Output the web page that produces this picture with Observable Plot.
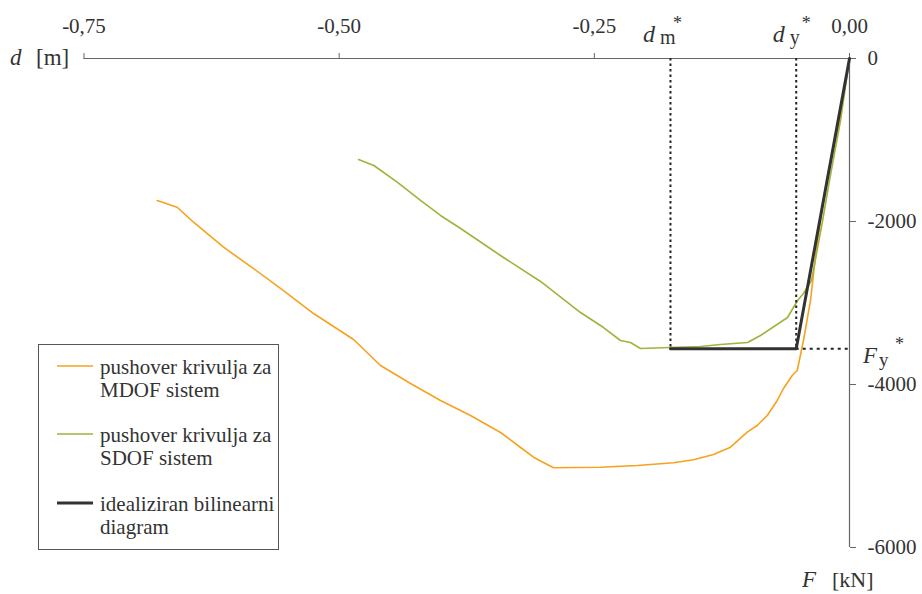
<!DOCTYPE html>
<html>
<head>
<meta charset="utf-8">
<script src="https://cdn.jsdelivr.net/npm/d3@7"></script>
<script src="https://cdn.jsdelivr.net/npm/@observablehq/plot@0.6"></script>
<style>
  html, body { margin: 0; padding: 0; background: #fff; }
  #chart { position: relative; width: 922px; height: 594px; }
  #chart svg text { font-family: "Liberation Serif", "Times New Roman", serif; }
</style>
</head>
<body>
<div id="chart"></div>
<script>
// ---- data (d in m, F in kN) ----
const mdofD = [0, -0.0098, -0.0225, -0.0323, -0.0382, -0.0451, -0.0512, -0.0561, -0.0647, -0.0708, -0.0806, -0.0904, -0.1002, -0.1166, -0.1332, -0.1528, -0.1724, -0.2080, -0.2439, -0.2900, -0.3096, -0.3223, -0.3419, -0.3713, -0.4007, -0.4301, -0.4595, -0.4859, -0.5251, -0.5545, -0.5839, -0.6133, -0.6427, -0.6587, -0.6783];
const mdofF = [0, -761, -1497, -2319, -2969, -3460, -3828, -3890, -4049, -4196, -4380, -4503, -4585, -4769, -4859, -4924, -4961, -4994, -5015, -5022, -4892, -4773, -4589, -4380, -4196, -3988, -3767, -3448, -3129, -2847, -2577, -2315, -2009, -1825, -1742];

const sdofD = [0, -0.0088, -0.0196, -0.0265, -0.0372, -0.0451, -0.0509, -0.0607, -0.0872, -0.0999, -0.1264, -0.1460, -0.1754, -0.2048, -0.2146, -0.2244, -0.2410, -0.2635, -0.3027, -0.3420, -0.3810, -0.4007, -0.4203, -0.4428, -0.4660, -0.4810];
const sdofF = [0, -761, -1497, -2000, -2724, -2883, -2969, -3178, -3399, -3485, -3509, -3534, -3546, -3558, -3485, -3460, -3301, -3117, -2736, -2417, -2086, -1926, -1742, -1521, -1313, -1239];

const bilinD = [0, -0.0522, -0.1754];
const bilinF = [0, -3562, -3562];

const dmStar = -0.1754;
const dyStar = -0.0522;
const FyStar = -3562;

const xTicks = [-0.75, -0.50, -0.25, 0];
const yTicks = [0, -2000, -4000, -6000];

const seriesNames = ["pushover krivulja za|MDOF sistem", "pushover krivulja za|SDOF sistem", "idealiziran bilinearni|diagram"];

// ---- build tables ----
const mdof = mdofD.map((d, i) => ({d, F: mdofF[i]}));
const sdof = sdofD.map((d, i) => ({d, F: sdofF[i]}));
const bilin = bilinD.map((d, i) => ({d, F: bilinF[i]}));

const ORANGE = "#f7a21f";
const GREEN = "#a3b23a";
const DARK = "#333333";
const AXIS = "#666666";
const FONT = "Liberation Serif";

const plot = Plot.plot({
  width: 922,
  height: 594,
  marginLeft: 83.5,
  marginRight: 73,
  marginTop: 58,
  marginBottom: 47,
  x: {domain: [-0.75, 0]},
  y: {domain: [-6000, 0]},
  style: {fontFamily: FONT, fontSize: "21px", color: "#333", background: "#fff", overflow: "visible"},
  marks: [
    Plot.ruleY([0], {stroke: AXIS, strokeWidth: 1.2}),
    Plot.ruleX([0], {stroke: AXIS, strokeWidth: 1.2}),
    Plot.axisX({anchor: "top", ticks: xTicks, tickFormat: d => d.toFixed(2).replace(".", ","), tickSize: 6, tickPadding: 20, label: null, stroke: AXIS, fontSize: 21, fontFamily: FONT}),
    Plot.axisY({anchor: "right", ticks: yTicks, tickFormat: d => String(d), tickSize: 6, tickPadding: 12, label: null, stroke: AXIS, fontSize: 21, fontFamily: FONT}),
    Plot.line(mdof, {x: "d", y: "F", stroke: ORANGE, strokeWidth: 1.6}),
    Plot.line(sdof, {x: "d", y: "F", stroke: GREEN, strokeWidth: 1.6}),
    Plot.ruleX([dmStar, dyStar], {y1: 0, y2: FyStar, stroke: "#222", strokeWidth: 2, strokeDasharray: "2.5,3"}),
    Plot.ruleY([FyStar], {x1: dyStar, x2: 0, stroke: "#222", strokeWidth: 2, strokeDasharray: "3,4"}),
    Plot.line(bilin, {x: "d", y: "F", stroke: DARK, strokeWidth: 3})
  ]
});

document.getElementById("chart").appendChild(plot);

const sx = plot.scale("x"), sy = plot.scale("y");
const svg = d3.select(plot);
const g = svg.append("g").attr("font-family", FONT).attr("fill", "#333").attr("text-anchor", "start");

function txt(x, y, s, size, italic) {
  g.append("text").attr("x", x).attr("y", y).attr("font-size", size)
    .attr("text-anchor", "start")
    .attr("font-style", italic ? "italic" : "normal").text(s);
}

// axis labels
const y0 = sy.apply(0);
txt(10, y0 + 7, "d", 23, true);
txt(36, y0 + 7, "[m]", 23, false);
const xEnd = sx.apply(0);
txt(xEnd - 47, 587, "F", 23, true);
txt(xEnd - 17, 587, "[kN]", 22, false);

// star labels
function starLabel(xc, yb, main, sub, subDx, starDx) {
  txt(xc, yb, main, 24, true);
  txt(xc + subDx, yb + 2, sub, 20, false);
  txt(xc + starDx, yb - 13, "*", 18, false);
}
starLabel(sx.apply(dmStar) - 27, y0 - 16.5, "d", "m", 17, 30);
starLabel(sx.apply(dyStar) - 23, y0 - 16.5, "d", "y", 17, 29);
const fy = sy.apply(FyStar);
txt(xEnd + 14, fy + 15, "F", 23, true);
txt(xEnd + 30, fy + 18, "y", 19, false);
txt(xEnd + 46, fy + 2, "*", 18, false);

// legend
const lg = g.append("g");
lg.append("rect").attr("x", 38.5).attr("y", 344.5).attr("width", 240).attr("height", 205)
  .attr("fill", "#fff").attr("stroke", "#555").attr("stroke-width", 1);
const legendRows = [
  {name: seriesNames[0], color: ORANGE, w: 1.6},
  {name: seriesNames[1], color: GREEN, w: 1.6},
  {name: seriesNames[2], color: DARK, w: 3}
];
const rowY = [366, 434, 503];
legendRows.forEach((r, i) => {
  lg.append("line").attr("x1", 57).attr("x2", 93).attr("y1", rowY[i]).attr("y2", rowY[i])
    .attr("stroke", r.color).attr("stroke-width", r.w);
  r.name.split("|").forEach((line, j) => {
    lg.append("text").attr("x", 100).attr("y", rowY[i] + 8 + j * 23)
      .attr("text-anchor", "start").attr("font-size", 21).text(line);
  });
});
</script>
</body>
</html>
